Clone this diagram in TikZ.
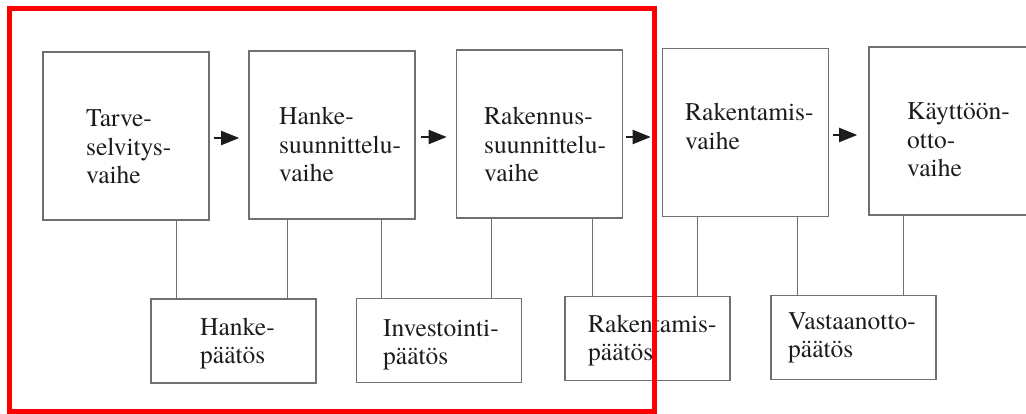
\documentclass[tikz,border=0pt]{standalone}
\usepackage{fontspec}
\setmainfont{texgyretermes-regular.otf}
\usetikzlibrary{arrows.meta}
\definecolor{frame}{RGB}{112,112,112}
\definecolor{ink}{RGB}{28,28,28}
\definecolor{hilite}{RGB}{255,0,0}
\begin{document}
\begin{tikzpicture}[x=1pt,y=-1pt,
  phase/.style={draw=frame, line width=1.6pt, minimum width=166pt, minimum height=168pt, inner sep=0pt},
  decision/.style={draw=frame, line width=1.6pt, minimum width=165pt, minimum height=84pt, inner sep=0pt},
  lbl/.style={font=\fontsize{25.5}{28.5}\selectfont, text=ink, align=left, text width=150pt, inner sep=0pt, anchor=base west},
  link/.style={draw=frame, line width=1.3pt},
  flow/.style={-{Triangle[length=18pt,width=14pt]}, line width=2pt, draw=ink, fill=ink},
]
\clip (0,0) rectangle (1026,414);

% project phases
\node[phase] (p1) at (126,136) {};
\node[phase] (p2) at (332,135) {};
\node[phase] (p3) at (539.5,134) {};
\node[phase] (p4) at (745.5,132.5) {};
\node[phase] (p5) at (952,131) {};

\node[lbl] (t1) at (86,127) {Tarve-\\selvitys-\\vaihe};
\node[lbl] (t2) at (279,125) {Hanke-\\suunnittelu-\\vaihe};
\node[lbl] (t3) at (484,125) {Rakennus-\\suunnittelu-\\vaihe};
\node[lbl] (t4) at (685,121) {Rakentamis-\\vaihe};
\node[lbl] (t5) at (907,120) {Käyttöön-\\otto-\\vaihe};

% decisions between phases
\node[decision] (d1) at (233.5,341) {};
\node[decision] (d2) at (439,340.5) {};
\node[decision] (d3) at (647.5,338.5) {};
\node[decision] (d4) at (853.5,337.5) {};

\node[lbl] (u1) at (200,335) {Hanke-\\päätös};
\node[lbl] (u2) at (383,336) {Investointi-\\päätös};
\node[lbl] (u3) at (588,332) {Rakentamis-\\päätös};
\node[lbl] (u4) at (788,329) {Vastaanotto-\\päätös};

% phase-to-decision links
\draw[link] ([xshift=26pt]d1.north west) -- ([xshift=26pt]d1.north west |- p1.south);
\draw[link] ([xshift=-29pt]d1.north east) -- ([xshift=-29pt]d1.north east |- p2.south);
\draw[link] ([xshift=26pt]d2.north west) -- ([xshift=26pt]d2.north west |- p2.south);
\draw[link] ([xshift=-31pt]d2.north east) -- ([xshift=-31pt]d2.north east |- p3.south);
\draw[link] ([xshift=28pt]d3.north west) -- ([xshift=28pt]d3.north west |- p3.south);
\draw[link] ([xshift=-33pt]d3.north east) -- ([xshift=-33pt]d3.north east |- p4.south);
\draw[link] ([xshift=27pt]d4.north west) -- ([xshift=27pt]d4.north west |- p4.south);
\draw[link] ([xshift=-33pt]d4.north east) -- ([xshift=-33pt]d4.north east |- p5.south);

% flow between phases
\draw[flow] ([xshift=4pt,yshift=-2pt]p1.east) -- ([xshift=-9pt,yshift=-3pt]p2.west);
\draw[flow] ([xshift=5pt,yshift=-2pt]p2.east) -- ([xshift=-9pt,yshift=-3pt]p3.west);
\draw[flow] ([xshift=3pt,yshift=-3pt]p3.east) -- ([xshift=-11pt,yshift=-4.5pt]p4.west);
\draw[flow] ([xshift=4pt,yshift=-2.5pt]p4.east) -- ([xshift=-11pt,yshift=-4pt]p5.west);

% highlight frame
\draw[hilite, line width=5pt] (9,8.5) rectangle (654,411);
\end{tikzpicture}
\end{document}
